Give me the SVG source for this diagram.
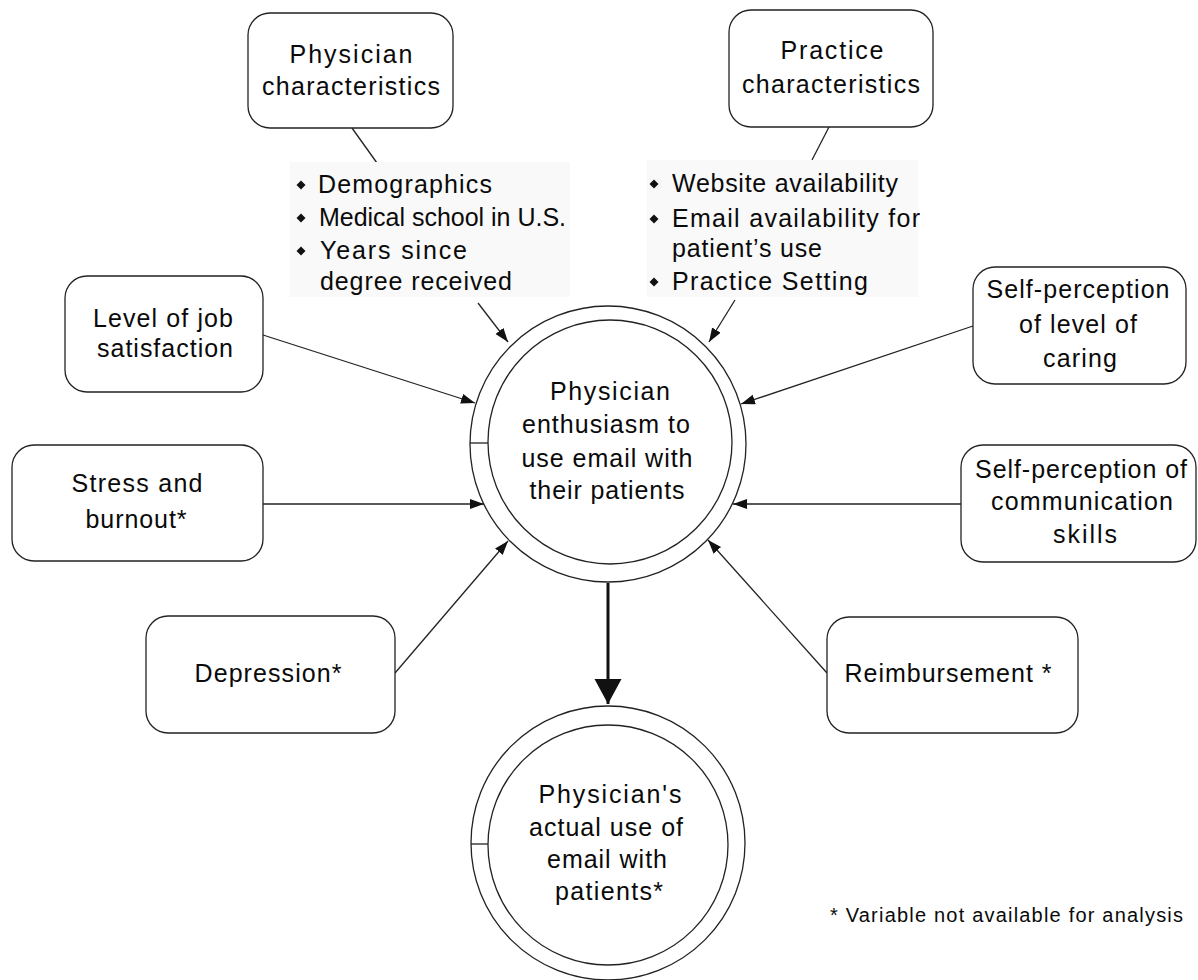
<svg xmlns="http://www.w3.org/2000/svg" width="1198" height="980" viewBox="0 0 1198 980">
<style>
  text { font-family: "Liberation Sans", Arial, sans-serif; font-size: 25px; fill: #0a0a0a; text-anchor: middle; }
  .lt { text-anchor: start; }
  .box { fill: #fff; stroke: #222; stroke-width: 1.3; }
  .ring { fill: #fff; stroke: #222; stroke-width: 1.3; }
  .ln { fill: none; stroke: #222; stroke-width: 1.3; }
  .arr { fill: none; stroke: #222; stroke-width: 1.3; marker-end: url(#ah); }
  .thick { fill: none; stroke: #111; stroke-width: 3; marker-end: url(#ahBig); }
  .panel { fill: #f9f9f9; stroke: none; }
  .foot { font-size: 20px; text-anchor: start; }
</style>
<defs>
  <marker id="ah" markerUnits="userSpaceOnUse" markerWidth="15" markerHeight="11" refX="14" refY="5" orient="auto">
    <path d="M0,0 L14,5 L0,10 z" fill="#111"/>
  </marker>
  <marker id="ahBig" markerUnits="userSpaceOnUse" markerWidth="26" markerHeight="28" refX="25" refY="13.5" orient="auto">
    <path d="M0,0 L25,13.5 L0,27 z" fill="#111"/>
  </marker>
  <path id="dia" d="M0,-4.5 L4.5,0 L0,4.5 L-4.5,0 z" fill="#111"/>
</defs>

<g id="connectors">
  <line class="ln" x1="352" y1="128" x2="377" y2="163"/>
  <line class="ln" x1="829" y1="127" x2="812" y2="160"/>
  <line class="arr" x1="478" y1="303" x2="508" y2="342"/>
  <line class="arr" x1="735" y1="300" x2="709" y2="342"/>
  <line class="arr" x1="263" y1="335" x2="475" y2="403"/>
  <line class="arr" x1="263" y1="504" x2="484" y2="504"/>
  <line class="arr" x1="395" y1="673" x2="508" y2="541"/>
  <line class="arr" x1="973" y1="326" x2="741" y2="404"/>
  <line class="arr" x1="961" y1="504" x2="733" y2="504"/>
  <line class="arr" x1="827" y1="673" x2="708" y2="540"/>
  <line class="thick" x1="608" y1="583" x2="608" y2="704"/>
</g>

<g id="physician-characteristics">
  <rect class="box" x="248" y="13" width="205" height="115" rx="22"/>
  <text x="351" y="63" textLength="123" lengthAdjust="spacing">Physician</text>
  <text x="351" y="95" textLength="178" lengthAdjust="spacing">characteristics</text>
</g>

<g id="physician-list">
  <rect class="panel" x="290" y="162" width="280" height="135"/>
  <use href="#dia" x="301" y="185"/>
  <use href="#dia" x="301" y="218"/>
  <use href="#dia" x="301" y="251"/>
  <text class="lt" x="318" y="193" textLength="174" lengthAdjust="spacing">Demographics</text>
  <text class="lt" x="319" y="226" textLength="247" lengthAdjust="spacing">Medical school in U.S.</text>
  <text class="lt" x="320" y="259" textLength="147" lengthAdjust="spacing">Years since</text>
  <text class="lt" x="320" y="290" textLength="192" lengthAdjust="spacing">degree received</text>
</g>

<g id="practice-characteristics">
  <rect class="box" x="729" y="10" width="204" height="117" rx="22"/>
  <text x="832" y="59" textLength="103" lengthAdjust="spacing">Practice</text>
  <text x="831" y="93" textLength="178" lengthAdjust="spacing">characteristics</text>
</g>

<g id="practice-list">
  <rect class="panel" x="647" y="160" width="271" height="137"/>
  <use href="#dia" x="654" y="184"/>
  <use href="#dia" x="654" y="219"/>
  <use href="#dia" x="654" y="282"/>
  <text class="lt" x="672" y="192" textLength="226" lengthAdjust="spacing">Website availability</text>
  <text class="lt" x="672" y="227" textLength="248" lengthAdjust="spacing">Email availability for</text>
  <text class="lt" x="672" y="257" textLength="150" lengthAdjust="spacing">patient’s use</text>
  <text class="lt" x="672" y="290" textLength="196" lengthAdjust="spacing">Practice Setting</text>
</g>

<g id="job-satisfaction">
  <rect class="box" x="65" y="276" width="198" height="116" rx="22"/>
  <text x="163" y="327" textLength="140" lengthAdjust="spacing">Level of job</text>
  <text x="165" y="357" textLength="136" lengthAdjust="spacing">satisfaction</text>
</g>

<g id="stress-burnout">
  <rect class="box" x="12" y="445" width="251" height="116" rx="22"/>
  <text x="137" y="492" textLength="131" lengthAdjust="spacing">Stress and</text>
  <text x="136" y="528" textLength="101" lengthAdjust="spacing">burnout*</text>
</g>

<g id="depression">
  <rect class="box" x="146" y="616" width="249" height="117" rx="22"/>
  <text x="268" y="682" textLength="147" lengthAdjust="spacing">Depression*</text>
</g>

<g id="level-of-caring">
  <rect class="box" x="973" y="267" width="213" height="117" rx="22"/>
  <text x="1078" y="298" textLength="183" lengthAdjust="spacing">Self-perception</text>
  <text x="1078" y="333" textLength="118" lengthAdjust="spacing">of level of</text>
  <text x="1080" y="367" textLength="74" lengthAdjust="spacing">caring</text>
</g>

<g id="communication-skills">
  <rect class="box" x="961" y="445" width="235" height="117" rx="22"/>
  <text x="1081" y="478" textLength="212" lengthAdjust="spacing">Self-perception of</text>
  <text x="1082" y="510" textLength="182" lengthAdjust="spacing">communication</text>
  <text x="1085" y="543" textLength="64" lengthAdjust="spacing">skills</text>
</g>

<g id="reimbursement">
  <rect class="box" x="827" y="617" width="251" height="116" rx="22"/>
  <text x="948" y="682" textLength="207" lengthAdjust="spacing">Reimbursement *</text>
</g>

<g id="enthusiasm">
  <circle class="ring" cx="608" cy="444" r="138"/>
  <circle class="ring" cx="610" cy="442" r="122"/>
  <line class="ln" x1="470" y1="443" x2="488" y2="443"/>
  <text x="610" y="400" textLength="120" lengthAdjust="spacing">Physician</text>
  <text x="606" y="433" textLength="168" lengthAdjust="spacing">enthusiasm to</text>
  <text x="607" y="467" textLength="171" lengthAdjust="spacing">use email with</text>
  <text x="607" y="499" textLength="155" lengthAdjust="spacing">their patients</text>
</g>

<g id="actual-use">
  <circle class="ring" cx="608" cy="843" r="137"/>
  <circle class="ring" cx="608" cy="845" r="120"/>
  <line class="ln" x1="471" y1="844" x2="488" y2="844"/>
  <text x="610" y="803" textLength="143" lengthAdjust="spacing">Physician's</text>
  <text x="606" y="836" textLength="154" lengthAdjust="spacing">actual use of</text>
  <text x="607" y="868" textLength="120" lengthAdjust="spacing">email with</text>
  <text x="609" y="900" textLength="108" lengthAdjust="spacing">patients*</text>
</g>

<g id="footnote">
  <text class="foot" x="830" y="922" textLength="353" lengthAdjust="spacing">* Variable not available for analysis</text>
</g>
</svg>
